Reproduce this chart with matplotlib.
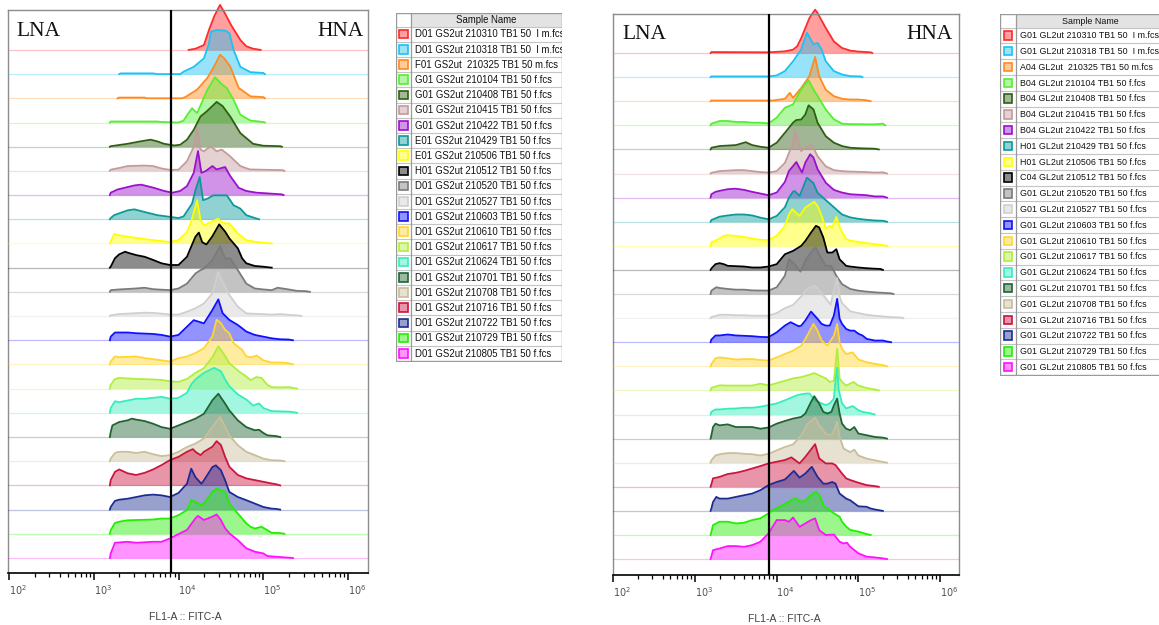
"""
Offset FL1-A (FITC) histograms for two sampling sites, GS2ut and GL2ut.
A gate at ~8e3 splits low (LNA) and high (HNA) nucleic-acid cells.
"""
import matplotlib
matplotlib.use("Agg")
import matplotlib.pyplot as plt
import numpy as np
from matplotlib.colors import to_rgb
from matplotlib.patches import Rectangle
from matplotlib.ticker import FixedLocator, NullFormatter
from matplotlib.transforms import ScaledTranslation

# ------------------------------------------------------------------
# Data
# ------------------------------------------------------------------
LEFT_SAMPLES = [
    "D01 GS2ut 210310 TB1 50  I m.fcs", "D01 GS2ut 210318 TB1 50  I m.fcs",
    "F01 GS2ut  210325 TB1 50 m.fcs", "G01 GS2ut 210104 TB1 50 f.fcs",
    "G01 GS2ut 210408 TB1 50 f.fcs", "G01 GS2ut 210415 TB1 50 f.fcs",
    "G01 GS2ut 210422 TB1 50 f.fcs", "E01 GS2ut 210429 TB1 50 f.fcs",
    "E01 GS2ut 210506 TB1 50 f.fcs", "H01 GS2ut 210512 TB1 50 f.fcs",
    "D01 GS2ut 210520 TB1 50 f.fcs", "D01 GS2ut 210527 TB1 50 f.fcs",
    "D01 GS2ut 210603 TB1 50 f.fcs", "D01 GS2ut 210610 TB1 50 f.fcs",
    "D01 GS2ut 210617 TB1 50 f.fcs", "D01 GS2ut 210624 TB1 50 f.fcs",
    "D01 GS2ut 210701 TB1 50 f.fcs", "D01 GS2ut 210708 TB1 50 f.fcs",
    "D01 GS2ut 210716 TB1 50 f.fcs", "D01 GS2ut 210722 TB1 50 f.fcs",
    "D01 GS2ut 210729 TB1 50 f.fcs", "D01 GS2ut 210805 TB1 50 f.fcs",
]

RIGHT_SAMPLES = [
    "G01 GL2ut 210310 TB1 50  I m.fcs", "G01 GL2ut 210318 TB1 50  I m.fcs",
    "A04 GL2ut  210325 TB1 50 m.fcs", "B04 GL2ut 210104 TB1 50 f.fcs",
    "B04 GL2ut 210408 TB1 50 f.fcs", "B04 GL2ut 210415 TB1 50 f.fcs",
    "B04 GL2ut 210422 TB1 50 f.fcs", "H01 GL2ut 210429 TB1 50 f.fcs",
    "H01 GL2ut 210506 TB1 50 f.fcs", "C04 GL2ut 210512 TB1 50 f.fcs",
    "G01 GL2ut 210520 TB1 50 f.fcs", "G01 GL2ut 210527 TB1 50 f.fcs",
    "G01 GL2ut 210603 TB1 50 f.fcs", "G01 GL2ut 210610 TB1 50 f.fcs",
    "G01 GL2ut 210617 TB1 50 f.fcs", "G01 GL2ut 210624 TB1 50 f.fcs",
    "G01 GL2ut 210701 TB1 50 f.fcs", "G01 GL2ut 210708 TB1 50 f.fcs",
    "G01 GL2ut 210716 TB1 50 f.fcs", "G01 GL2ut 210722 TB1 50 f.fcs",
    "G01 GL2ut 210729 TB1 50 f.fcs", "G01 GL2ut 210805 TB1 50 f.fcs",
]

LINE_COLORS = [
    "#FF2A2A", "#1CC2F2", "#FF8A1F", "#55EE33", "#2F5F14", "#C49A9A",
    "#9A10CC", "#0A9A9A", "#FFFF00", "#000000", "#7A7A7A", "#CFCFCF",
    "#1010FF", "#FFD530", "#B0EE3A", "#33EEBB", "#1F6432", "#C8BE9A",
    "#CC1440", "#1C2C94", "#22EE00", "#FF10FF",
]

# histogram outlines: (log10 FL1-A, height in row units), top row first
LEFT_PROFILES = [
    [(4.12, 0), (4.2, .05), (4.3, .2), (4.36, .83), (4.42, 1.38), (4.49, 1.86), (4.55, 1.5),
     (4.62, 1.03), (4.73, .41), (4.8, .15), (4.88, .05), (4.97, 0)],
    [(3.3, 0), (3.32, .03), (3.7, .03), (3.75, 0), (4.02, 0), (4.06, .1), (4.18, .3), (4.3, .65),
     (4.36, 1.27), (4.38, 1.75), (4.45, 1.82), (4.55, 1.8), (4.6, 1.7), (4.65, 1.0), (4.73, .3),
     (4.85, .08), (5.0, .05), (5.02, 0)],
    [(3.28, 0), (3.3, .03), (3.6, .03), (3.62, 0), (4.04, 0), (4.08, .05), (4.22, .36), (4.34, .84),
     (4.41, 1.25), (4.49, 1.8), (4.54, 1.65), (4.61, 1.32), (4.71, .43), (4.85, .08), (5.0, .05),
     (5.02, 0)],
    [(3.19, 0), (3.2, .04), (3.75, .04), (3.8, .02), (4.0, 0), (4.06, .08), (4.12, .4), (4.16, .59),
     (4.22, .39), (4.34, 1.35), (4.43, 1.87), (4.5, 1.62), (4.57, 1.42), (4.65, .94), (4.73, .32),
     (4.85, .08), (5.0, .02), (5.02, 0)],
    [(3.19, 0), (3.2, .02), (3.4, .12), (3.55, .22), (3.67, .29), (3.75, .22), (3.83, .12), (3.95, .05),
     (4.02, .08), (4.1, .29), (4.18, .7), (4.26, 1.25), (4.33, 1.45), (4.45, 1.85), (4.52, 1.68),
     (4.61, 1.25), (4.73, .56), (4.88, .12), (5.0, .04), (5.2, .02), (5.22, 0)],
    [(3.19, 0), (3.2, .05), (3.3, .12), (3.4, .2), (3.6, .22), (3.7, .2), (3.8, .1), (3.9, .04),
     (4.0, .05), (4.1, .4), (4.18, 1.0), (4.22, 1.74), (4.26, .88), (4.3, .81), (4.38, 1.02),
     (4.45, .81), (4.51, .88), (4.61, .6), (4.73, .2), (4.84, .06), (5.23, .03), (5.25, 0)],
    [(3.19, 0), (3.2, .1), (3.28, .23), (3.48, .4), (3.56, .43), (3.71, .3), (3.83, .17), (3.93, .1),
     (4.02, .17), (4.1, .37), (4.18, .92), (4.23, 1.82), (4.27, .92), (4.32, .99), (4.4, 1.2),
     (4.45, 1.06), (4.55, 1.16), (4.61, .79), (4.71, .3), (4.8, .17), (4.92, .1), (5.22, .03),
     (5.24, 0)],
    [(3.19, 0), (3.2, .05), (3.24, .17), (3.4, .37), (3.48, .41), (3.6, .3), (3.75, .17), (3.9, .1),
     (4.0, .05), (4.06, .12), (4.16, .65), (4.2, 1.2), (4.25, 1.75), (4.29, .79), (4.34, .85),
     (4.41, .99), (4.57, .99), (4.65, .58), (4.73, .44), (4.8, .17), (4.92, .03), (4.95, 0)],
    [(3.19, 0), (3.2, .07), (3.24, .39), (3.3, .34), (3.4, .28), (3.5, .23), (3.6, .18), (3.7, .14),
     (3.8, .1), (3.9, .06), (4.0, .14), (4.1, .48), (4.15, .9), (4.22, 1.79), (4.26, .96), (4.3, .76),
     (4.35, .83), (4.47, 1.03), (4.5, .9), (4.55, .83), (4.6, .83), (4.7, .41), (4.8, .14), (4.9, .07),
     (5.0, .03), (5.1, 0)],
    [(3.19, 0), (3.2, .04), (3.25, .39), (3.3, .55), (3.37, .66), (3.4, .62), (3.5, .52), (3.6, .45),
     (3.7, .32), (3.8, .18), (3.9, .11), (4.0, .11), (4.1, .45), (4.15, .87), (4.2, 1.28), (4.24, 1.45),
     (4.28, 1.05), (4.33, .96), (4.4, 1.3), (4.48, 1.79), (4.55, 1.49), (4.6, 1.21), (4.7, .8),
     (4.75, .39), (4.8, .18), (4.9, .07), (5.0, .04), (5.1, 0)],
    [(3.19, 0), (3.2, .07), (3.3, .1), (3.5, .14), (3.6, .17), (3.7, .11), (3.9, .07), (4.0, .14),
     (4.1, .34), (4.2, .76), (4.26, .9), (4.3, .96), (4.4, 1.31), (4.49, 1.89), (4.55, 1.38),
     (4.61, 1.38), (4.7, .9), (4.8, .34), (4.9, .14), (5.0, .1), (5.1, .07), (5.17, .17), (5.3, .1),
     (5.4, .04), (5.5, .03), (5.55, 0)],
    [(3.19, 0), (3.2, .03), (3.3, .08), (3.4, .1), (3.5, .12), (3.6, .14), (3.7, .13), (3.8, .1),
     (3.9, .06), (4.0, .06), (4.1, .18), (4.2, .32), (4.3, .52), (4.4, .94), (4.47, 1.83), (4.5, 1.56),
     (4.6, .87), (4.7, .39), (4.8, .11), (5.1, .06), (5.2, .08), (5.3, .05), (5.4, .03), (5.45, 0)],
    [(3.19, 0), (3.2, .15), (3.25, .32), (3.4, .32), (3.5, .29), (3.7, .26), (3.8, .22), (3.9, .15),
     (4.0, .22), (4.1, .56), (4.18, .83), (4.3, .7), (4.4, 1.25), (4.47, 1.69), (4.52, 1.12),
     (4.6, .84), (4.7, .63), (4.8, .36), (4.9, .22), (5.0, .15), (5.1, .08), (5.2, .04), (5.3, .03),
     (5.35, 0)],
    [(3.19, 0), (3.2, .12), (3.25, .33), (3.3, .3), (3.5, .33), (3.6, .26), (3.7, .22), (3.8, .17),
     (3.9, .12), (4.0, .26), (4.1, .33), (4.2, .47), (4.3, .67), (4.4, 1.16), (4.45, 1.85), (4.5, 1.71),
     (4.55, 1.43), (4.6, 1.29), (4.65, .88), (4.7, .74), (4.75, .61), (4.8, .33), (4.86, .3),
     (4.92, .37), (5.0, .17), (5.1, .08), (5.2, .08), (5.3, .05), (5.35, 0)],
    [(3.19, 0), (3.2, .15), (3.25, .4), (3.3, .44), (3.5, .4), (3.7, .38), (3.8, .36), (3.9, .3),
     (4.0, .28), (4.1, .4), (4.2, .65), (4.3, .85), (4.4, 1.3), (4.47, 1.75), (4.55, 1.35), (4.6, 1.05),
     (4.7, .75), (4.8, .5), (4.85, .35), (4.92, .48), (4.98, .44), (5.05, .15), (5.1, .06), (5.2, .05),
     (5.3, .06), (5.35, .03), (5.4, 0)],
    [(3.19, 0), (3.2, .2), (3.25, .48), (3.3, .44), (3.4, .51), (3.5, .58), (3.6, .58), (3.7, .62),
     (3.8, .66), (3.9, .58), (4.0, .62), (4.1, .83), (4.15, 1.17), (4.2, 1.38), (4.3, 1.65),
     (4.42, 1.86), (4.5, 1.72), (4.55, 1.38), (4.6, 1.1), (4.7, .76), (4.8, .55), (4.88, .3),
     (4.95, .39), (5.0, .2), (5.1, .07), (5.2, .06), (5.3, .05), (5.35, .03), (5.4, 0)],
    [(3.19, 0), (3.2, .2), (3.22, .48), (3.3, .62), (3.4, .69), (3.45, .76), (3.5, .72), (3.6, .66),
     (3.7, .55), (3.8, .41), (3.9, .34), (4.0, .48), (4.1, .62), (4.2, .76), (4.3, .96), (4.4, 1.52),
     (4.47, 1.79), (4.55, 1.38), (4.6, 1.1), (4.7, .69), (4.8, .41), (4.9, .28), (4.95, .3), (5.0, .17),
     (5.05, .07), (5.15, .04), (5.2, 0)],
    [(3.19, 0), (3.2, .11), (3.25, .34), (3.3, .39), (3.4, .39), (3.5, .34), (3.6, .39), (3.7, .29),
     (3.8, .21), (3.9, .25), (4.0, .39), (4.1, .59), (4.2, .73), (4.3, .94), (4.4, 1.42), (4.49, 1.83),
     (4.55, 1.42), (4.6, 1.07), (4.7, .66), (4.8, .39), (4.9, .25), (5.0, .11), (5.1, .04), (5.2, .03),
     (5.25, 0)],
    [(3.19, 0), (3.2, .22), (3.25, .56), (3.3, .66), (3.4, .5), (3.5, .43), (3.6, .52), (3.7, .66),
     (3.8, .84), (3.9, 1.05), (4.0, 1.18), (4.1, 1.39), (4.17, 1.5), (4.2, 1.39), (4.26, 1.25),
     (4.3, 1.39), (4.4, 1.6), (4.45, 1.83), (4.5, 1.67), (4.55, 1.18), (4.6, .77), (4.7, .43),
     (4.8, .29), (4.9, .22), (5.0, .15), (5.1, .08), (5.15, .05), (5.2, 0)],
    [(3.19, 0), (3.2, .11), (3.25, .36), (3.3, .41), (3.4, .45), (3.5, .52), (3.6, .59), (3.7, .62),
     (3.8, .59), (3.9, .52), (4.0, .69), (4.1, 1.07), (4.15, 1.69), (4.2, 1.34), (4.27, 1.07),
     (4.3, 1.21), (4.4, 1.76), (4.44, 1.83), (4.5, 1.63), (4.55, 1.21), (4.6, .73), (4.7, .52),
     (4.8, .39), (4.9, .25), (5.0, .11), (5.1, .04), (5.15, .03), (5.2, 0)],
    [(3.19, 0), (3.2, .15), (3.25, .45), (3.3, .5), (3.4, .56), (3.7, .59), (3.8, .63), (3.9, .63),
     (4.0, .77), (4.1, .98), (4.15, 1.39), (4.2, 1.32), (4.27, 1.18), (4.3, 1.25), (4.4, 1.74),
     (4.45, 1.87), (4.5, 1.8), (4.55, 1.74), (4.6, 1.25), (4.7, .84), (4.8, .43), (4.85, .29),
     (4.9, .22), (4.98, .29), (5.0, .25), (5.1, .04), (5.2, .03), (5.25, 0)],
    [(3.19, 0), (3.2, .19), (3.25, .63), (3.4, .67), (3.5, .63), (3.7, .67), (3.8, .67), (3.9, .81),
     (4.0, .99), (4.1, 1.16), (4.2, 1.64), (4.23, 1.74), (4.3, 1.57), (4.4, 1.71), (4.45, 1.8),
     (4.5, 1.57), (4.55, 1.23), (4.6, 1.02), (4.7, .74), (4.8, .4), (4.9, .26), (5.0, .19), (5.05, .08),
     (5.2, .04), (5.35, 0)],
]

RIGHT_PROFILES = [
    [(3.19, 0), (3.2, .04), (3.9, .03), (4.1, .07), (4.2, .14), (4.25, .28), (4.3, .62), (4.4, 1.45),
     (4.47, 1.8), (4.5, 1.66), (4.6, 1.04), (4.7, .48), (4.8, .21), (4.9, .1), (5.0, .06), (5.1, .04),
     (5.15, .03), (5.17, 0)],
    [(3.19, 0), (3.2, .03), (3.9, .03), (4.0, .07), (4.1, .25), (4.2, .66), (4.3, 1.15), (4.37, 1.84),
     (4.45, 1.36), (4.5, 1.42), (4.55, 1.15), (4.6, .66), (4.7, .25), (4.8, .11), (4.9, .04),
     (5.03, .03), (5.05, 0)],
    [(3.19, 0), (3.2, .03), (3.95, .03), (4.1, .1), (4.16, .35), (4.2, .14), (4.3, .55), (4.4, 1.04),
     (4.47, 1.84), (4.52, 1.04), (4.6, .48), (4.7, .21), (4.8, .1), (4.9, .07), (5.0, .07), (5.1, .04),
     (5.15, 0)],
    [(3.19, 0), (3.2, .07), (3.3, .18), (3.4, .18), (3.5, .14), (3.6, .14), (3.7, .11), (3.8, .11),
     (3.9, .08), (4.0, .32), (4.1, .73), (4.2, .87), (4.3, 1.49), (4.39, 1.87), (4.45, 1.49),
     (4.5, 1.22), (4.6, .66), (4.7, .25), (4.8, .07), (4.9, .05), (5.2, .04), (5.3, .07), (5.33, 0)],
    [(3.19, 0), (3.2, .07), (3.3, .14), (3.5, .18), (3.62, .3), (3.7, .18), (3.8, .11), (3.9, .07),
     (4.0, .28), (4.1, .69), (4.2, 1.11), (4.24, 1.22), (4.3, 1.24), (4.35, 1.45), (4.39, 1.83),
     (4.45, 1.66), (4.5, 1.11), (4.6, .55), (4.7, .28), (4.8, .14), (4.9, .07), (5.0, .05), (5.2, .03),
     (5.25, 0)],
    [(3.19, 0), (3.2, .03), (3.3, .1), (3.5, .14), (3.6, .14), (3.7, .1), (3.8, .06), (3.9, .04),
     (4.0, .1), (4.1, .44), (4.2, 1.27), (4.22, 1.78), (4.3, .93), (4.35, 1.07), (4.41, 1.19),
     (4.45, 1.07), (4.5, .72), (4.6, .3), (4.7, .14), (4.8, .1), (4.9, .08), (5.0, .07), (5.1, .06),
     (5.2, .04), (5.3, .05), (5.35, 0)],
    [(3.19, 0), (3.2, .14), (3.25, .24), (3.3, .28), (3.4, .35), (3.5, .37), (3.6, .32), (3.7, .24),
     (3.8, .17), (3.9, .1), (4.0, .21), (4.1, .65), (4.15, 1.11), (4.2, 1.31), (4.24, 1.48),
     (4.31, 1.04), (4.35, 1.45), (4.41, 1.8), (4.45, 1.66), (4.5, 1.18), (4.6, .62), (4.7, .32),
     (4.8, .21), (4.9, .14), (5.0, .12), (5.1, .1), (5.2, .05), (5.3, .05), (5.35, 0)],
    [(3.19, 0), (3.2, .07), (3.3, .21), (3.4, .26), (3.5, .3), (3.6, .3), (3.7, .26), (3.8, .17),
     (3.9, .1), (4.0, .24), (4.1, .6), (4.15, 1.0), (4.2, 1.25), (4.22, 1.27), (4.28, 1.07),
     (4.37, 1.83), (4.45, 1.6), (4.5, 1.2), (4.6, .9), (4.7, .6), (4.8, .3), (4.9, .18), (5.0, .12),
     (5.1, .08), (5.2, .05), (5.3, .04), (5.35, 0)],
    [(3.19, 0), (3.2, .14), (3.3, .3), (3.35, .41), (3.4, .44), (3.5, .41), (3.6, .37), (3.7, .3),
     (3.8, .25), (3.9, .24), (4.0, .41), (4.1, .83), (4.15, 1.31), (4.19, 1.52), (4.28, 1.24),
     (4.35, 1.59), (4.46, 1.83), (4.5, 1.66), (4.55, 1.24), (4.6, .72), (4.65, .83), (4.68, .76),
     (4.73, 1.2), (4.78, .69), (4.85, .28), (4.9, .21), (5.0, .17), (5.1, .11), (5.2, .07), (5.3, .03),
     (5.35, 0)],
    [(3.19, 0), (3.2, .06), (3.25, .24), (3.3, .28), (3.35, .24), (3.4, .17), (3.6, .14), (3.7, .1),
     (3.8, .1), (3.9, .14), (4.0, .24), (4.1, .65), (4.15, .72), (4.2, .79), (4.3, 1.0), (4.35, 1.2),
     (4.42, 1.55), (4.48, 1.83), (4.52, 1.76), (4.57, 1.35), (4.62, .72), (4.68, .72), (4.73, .86),
     (4.77, .44), (4.85, .17), (4.9, .14), (5.0, .1), (5.1, .07), (5.2, .05), (5.27, .04), (5.3, 0)],
    [(3.19, 0), (3.2, .14), (3.26, .28), (3.3, .25), (3.4, .21), (3.5, .18), (3.6, .18), (3.7, .15),
     (3.9, .14), (4.0, .28), (4.1, .76), (4.15, 1.45), (4.22, 1.24), (4.29, .93), (4.35, 1.38),
     (4.45, 1.87), (4.48, 1.92), (4.55, 1.45), (4.6, 1.18), (4.67, 1.15), (4.73, .76), (4.8, .41),
     (4.9, .21), (5.0, .14), (5.1, .1), (5.2, .07), (5.3, .05), (5.4, .03), (5.43, 0)],
    [(3.19, 0), (3.2, .04), (3.3, .14), (3.4, .14), (3.5, .12), (3.6, .12), (3.7, .1), (3.9, .1),
     (4.0, .21), (4.1, .41), (4.2, .55), (4.3, .9), (4.38, 1.24), (4.46, 1.34), (4.5, 1.24), (4.6, .83),
     (4.66, .55), (4.7, 1.18), (4.74, 1.66), (4.77, .9), (4.8, .62), (4.9, .28), (5.0, .21), (5.1, .14),
     (5.2, .1), (5.3, .07), (5.4, .04), (5.5, .03), (5.55, 0)],
    [(3.19, 0), (3.2, .11), (3.25, .28), (3.3, .28), (3.4, .32), (3.5, .28), (3.7, .25), (3.8, .22),
     (3.9, .21), (4.0, .41), (4.1, .69), (4.17, .83), (4.27, .66), (4.3, .69), (4.35, .9), (4.42, 1.27),
     (4.5, .97), (4.55, .76), (4.6, .69), (4.65, .69), (4.7, 1.11), (4.74, 1.8), (4.77, .97), (4.8, .76),
     (4.85, .55), (4.9, .48), (4.95, .48), (5.0, .35), (5.05, .28), (5.1, .14), (5.2, .07), (5.3, .07),
     (5.35, .03), (5.4, 0)],
    [(3.19, 0), (3.2, .1), (3.25, .33), (3.3, .37), (3.4, .33), (3.5, .28), (3.6, .3), (3.7, .3),
     (3.8, .26), (3.9, .24), (4.0, .37), (4.1, .51), (4.2, .65), (4.3, .86), (4.35, 1.13), (4.45, 1.76),
     (4.5, 1.48), (4.55, 1.07), (4.62, .86), (4.7, 1.27), (4.74, 1.76), (4.77, 1.0), (4.8, .72),
     (4.85, .51), (4.93, .58), (5.0, .28), (5.1, .17), (5.2, .1), (5.3, .05), (5.35, 0)],
    [(3.19, 0), (3.2, .11), (3.3, .21), (3.4, .2), (3.7, .2), (3.8, .28), (3.9, .21), (4.0, .3),
     (4.1, .4), (4.2, .5), (4.3, .55), (4.4, .65), (4.46, .72), (4.5, .65), (4.6, .5), (4.65, .35),
     (4.7, .4), (4.74, 1.73), (4.77, .5), (4.8, .35), (4.85, .2), (4.94, .35), (5.0, .2), (5.1, .1),
     (5.2, .04), (5.25, 0)],
    [(3.19, 0), (3.2, .11), (3.25, .21), (3.3, .21), (3.4, .24), (3.5, .25), (3.6, .28), (3.7, .28),
     (3.8, .32), (3.9, .39), (4.0, .46), (4.1, .59), (4.2, .73), (4.25, .8), (4.3, .84), (4.36, .87),
     (4.4, .87), (4.47, .59), (4.55, .46), (4.6, .39), (4.65, .46), (4.7, .66), (4.72, 1.42),
     (4.74, 1.95), (4.76, 1.0), (4.8, .46), (4.85, .25), (4.93, .35), (5.0, .18), (5.05, .11),
     (5.1, .08), (5.15, .05), (5.2, 0)],
    [(3.19, 0), (3.2, .14), (3.22, .48), (3.25, .62), (3.3, .55), (3.4, .59), (3.5, .48), (3.7, .48),
     (3.8, .41), (3.9, .46), (4.0, .62), (4.1, .73), (4.2, .83), (4.3, .9), (4.35, 1.04), (4.42, 1.52),
     (4.46, 1.76), (4.52, 1.45), (4.57, 1.11), (4.62, 1.04), (4.67, 1.11), (4.7, 1.38), (4.74, 1.66),
     (4.77, 1.04), (4.8, .62), (4.85, .41), (4.9, .35), (4.95, .48), (5.0, .21), (5.1, .14), (5.2, .07),
     (5.3, .04), (5.35, 0)],
    [(3.19, 0), (3.2, .1), (3.25, .3), (3.3, .35), (3.4, .4), (3.5, .4), (3.6, .37), (3.7, .35),
     (3.8, .3), (3.9, .37), (4.0, .51), (4.1, .65), (4.2, .76), (4.3, 1.13), (4.38, 1.62), (4.47, 1.87),
     (4.52, 1.55), (4.6, 1.2), (4.67, 1.13), (4.7, 1.34), (4.74, 1.69), (4.77, 1.07), (4.82, .58),
     (4.9, .44), (4.95, .54), (5.0, .3), (5.1, .17), (5.2, .1), (5.3, .03), (5.35, 0)],
    [(3.19, 0), (3.2, .11), (3.22, .35), (3.3, .41), (3.4, .53), (3.5, .58), (3.6, .66), (3.7, .76),
     (3.8, .86), (3.9, .97), (4.0, 1.04), (4.1, 1.11), (4.18, 1.22), (4.28, .97), (4.35, 1.24),
     (4.47, 1.77), (4.52, 1.18), (4.6, .97), (4.68, .97), (4.72, .9), (4.8, .55), (4.85, .35),
     (4.9, .28), (5.0, .17), (5.1, .07), (5.2, .03), (5.25, 0)],
    [(3.19, 0), (3.2, .1), (3.22, .37), (3.26, .58), (3.3, .51), (3.4, .51), (3.5, .58), (3.6, .65),
     (3.7, .72), (3.8, .86), (3.9, 1.07), (4.0, 1.2), (4.1, 1.3), (4.21, 1.66), (4.28, 1.38),
     (4.35, 1.55), (4.43, 1.83), (4.5, 1.41), (4.57, 1.13), (4.62, 1.13), (4.68, 1.2), (4.72, 1.13),
     (4.77, .72), (4.85, .51), (4.9, .44), (5.0, .19), (5.1, .17), (5.15, .1), (5.2, .06), (5.25, .03),
     (5.3, 0)],
    [(3.19, 0), (3.2, .14), (3.22, .41), (3.3, .55), (3.4, .55), (3.5, .48), (3.6, .51), (3.7, .62),
     (3.8, .69), (3.9, .9), (3.95, 1.04), (4.0, 1.11), (4.1, 1.29), (4.2, 1.48), (4.23, 1.52),
     (4.3, 1.38), (4.35, 1.42), (4.42, 1.66), (4.48, 1.8), (4.52, 1.66), (4.58, 1.18), (4.62, 1.11),
     (4.7, .9), (4.77, .76), (4.8, .55), (4.85, .35), (4.9, .21), (5.0, .14), (5.1, .04), (5.15, 0)],
    [(3.19, 0), (3.2, .12), (3.22, .37), (3.3, .44), (3.4, .54), (3.5, .54), (3.6, .51), (3.7, .58),
     (3.8, .72), (3.9, 1.07), (3.95, 1.34), (4.0, 1.62), (4.1, 1.62), (4.15, 1.55), (4.2, 1.73),
     (4.28, 1.34), (4.35, 1.48), (4.42, 1.62), (4.47, 1.69), (4.52, 1.2), (4.6, 1.0), (4.7, 1.02),
     (4.77, .72), (4.82, .65), (4.86, .68), (4.9, .51), (5.0, .24), (5.1, .1), (5.2, .07), (5.3, .03),
     (5.35, 0)],
]

LEFT_GATE = 8100
RIGHT_GATE = 7950
MAJOR_TICKS = [1e2, 1e3, 1e4, 1e5, 1e6]
TICK_LABELS = ["$10^{2}$", "$10^{3}$", "$10^{4}$", "$10^{5}$", "$10^{6}$"]
X_LABEL = "FL1-A :: FITC-A"

# ------------------------------------------------------------------
# Helpers
# ------------------------------------------------------------------
W, H = 1159, 625
FILL_ALPHA = 0.45

fig = plt.figure(figsize=(W / 100, H / 100), dpi=100)


def px_axes(x0, y0, x1, y1):
    """Axes placed by pixel box (top-left origin)."""
    return fig.add_axes([x0 / W, 1 - y1 / H, (x1 - x0) / W, (y1 - y0) / H])


def light(color, alpha=FILL_ALPHA):
    r, g, b = to_rgb(color)
    return (1 - alpha + alpha * r, 1 - alpha + alpha * g, 1 - alpha + alpha * b)


def draw_panel(ax, profiles, gate, xlim, ylim, lna_x, hna_x, text_y):
    n = len(profiles)
    for i, (prof, col) in enumerate(zip(profiles, LINE_COLORS)):
        base = n - 1 - i
        lx, h = np.array(prof).T
        x = 10 ** lx
        z = 2 * i + 1
        ax.axhline(base, color=col, lw=0.9, alpha=0.28, zorder=z)
        ax.fill_between(x, base, base + h, color=col, alpha=FILL_ALPHA, lw=0,
                        zorder=z, clip_on=False)
        ax.plot(x, base + h, color=col, lw=1.3, zorder=z + 1, clip_on=False,
                solid_joinstyle="round")

    ax.axvline(gate, color="black", lw=1.6, zorder=100)

    ax.set_xscale("log")
    ax.set_xlim(*xlim)
    ax.set_ylim(*ylim)
    ax.set_yticks([])

    minors = [m * 10 ** d for d in range(1, 7) for m in range(2, 10)]
    minors = [v for v in minors if xlim[0] < v < xlim[1]]
    ax.xaxis.set_major_locator(FixedLocator(MAJOR_TICKS))
    ax.xaxis.set_minor_locator(FixedLocator(minors))
    ax.xaxis.set_major_formatter(NullFormatter())
    ax.xaxis.set_minor_formatter(NullFormatter())
    ax.tick_params(axis="x", which="major", length=5, width=1.1, color="black", direction="out")
    ax.tick_params(axis="x", which="minor", length=2.6, width=0.9, color="black", direction="out")

    for side in ("top", "left", "right"):
        ax.spines[side].set_color("#8c8c8c")
        ax.spines[side].set_linewidth(1.0)
    ax.spines["bottom"].set_color("black")
    ax.spines["bottom"].set_linewidth(1.2)

    # FlowJo-style labels sit just right of each major tick
    shift = ScaledTranslation(0.09, -0.17, fig.dpi_scale_trans)
    for v, lab in zip(MAJOR_TICKS, TICK_LABELS):
        ax.text(v, 0, lab, transform=ax.get_xaxis_transform() + shift,
                ha="center", va="center", fontsize=7, color="#505050")

    serif = dict(family=["Liberation Serif", "DejaVu Serif"], fontsize=15.5, color="#111111")
    ax.text(lna_x, text_y, "LNA", transform=ax.transAxes, ha="left", va="center", zorder=120, **serif)
    ax.text(hna_x, text_y, "HNA", transform=ax.transAxes, ha="right", va="center", zorder=120, **serif)


def draw_table(names, left, top, width, head_h, row_h, swatch_w, fontsize):
    height = head_h + row_h * len(names)
    ax = px_axes(left, top, left + width, top + height + 1)
    ax.set_xlim(0, width)
    ax.set_ylim(height + 1, 0)
    ax.axis("off")

    font = dict(family=["Liberation Sans", "DejaVu Sans"], fontsize=fontsize, color="#111111")
    grid = "#c4c4c4"

    ax.add_patch(Rectangle((swatch_w, 0), width - swatch_w, head_h, facecolor="#e3e3e3",
                           edgecolor="none", clip_on=True))
    ax.text(swatch_w + (width - swatch_w) / 2, head_h / 2 + 0.5, "Sample Name",
            ha="center", va="center", clip_on=True, **font)

    for i, (name, col) in enumerate(zip(names, LINE_COLORS)):
        y0 = head_h + i * row_h
        ax.plot([0, width], [y0, y0], color=grid, lw=0.8, clip_on=True)
        s = 8.5
        ax.add_patch(Rectangle((swatch_w / 2 - s / 2, y0 + row_h / 2 - s / 2), s, s,
                               facecolor=light(col), edgecolor=col, lw=1.2))
        ax.text(swatch_w + 4, y0 + row_h / 2 + 0.3, name, ha="left", va="center",
                clip_on=True, **font)

    ax.plot([0, width], [height, height], color="#9a9a9a", lw=1.0, clip_on=True)
    ax.plot([0, width], [0, 0], color="#9a9a9a", lw=1.0, clip_on=True)
    ax.plot([0, 0], [0, height], color="#9a9a9a", lw=1.0, clip_on=True)
    ax.plot([width, width], [0, height], color="#9a9a9a", lw=1.0, clip_on=True)
    ax.plot([swatch_w, swatch_w], [0, height], color="#9a9a9a", lw=0.9, clip_on=True)


# ------------------------------------------------------------------
# Figure
# ------------------------------------------------------------------
ax_l = px_axes(8, 10, 368, 573)
draw_panel(ax_l, LEFT_PROFILES, LEFT_GATE, (10 ** 1.988, 10 ** 6.236), (-0.62, 22.65),
           lna_x=0.024, hna_x=0.987, text_y=0.962)

ax_r = px_axes(613, 14, 959, 575)
draw_panel(ax_r, RIGHT_PROFILES, RIGHT_GATE, (10 ** 1.995, 10 ** 6.232), (-0.66, 22.62),
           lna_x=0.028, hna_x=0.981, text_y=0.963)

fig.text(185 / W, 1 - 617 / H, X_LABEL, ha="center", va="center", fontsize=7.5,
         color="#404040", family=["Liberation Sans", "DejaVu Sans"])
fig.text(784 / W, 1 - 619 / H, X_LABEL, ha="center", va="center", fontsize=7.5,
         color="#404040", family=["Liberation Sans", "DejaVu Sans"])

draw_table(LEFT_SAMPLES, left=396, top=13, width=166, head_h=13.5, row_h=15.2,
           swatch_w=15, fontsize=6.9)
# the right-hand table runs past the figure edge, as in the FlowJo layout export
draw_table(RIGHT_SAMPLES, left=1000, top=14, width=166, head_h=13.5, row_h=15.8,
           swatch_w=15.5, fontsize=6.4)

fig.savefig("out.png", dpi=100)
